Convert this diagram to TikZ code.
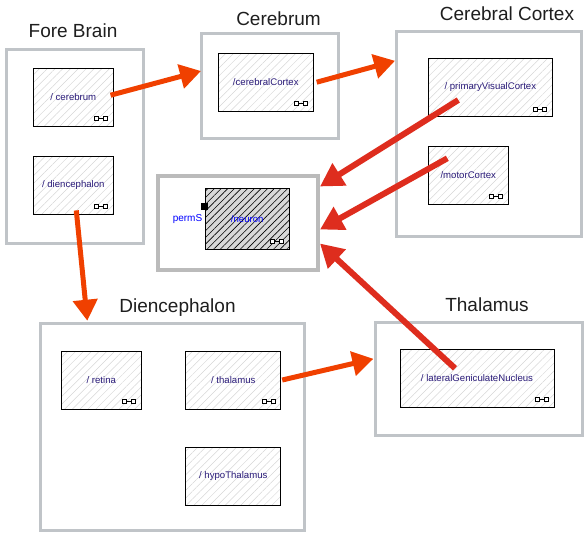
\documentclass[tikz,border=0pt]{standalone}
\usepackage{fontspec}
\setmainfont{Liberation Sans}
\usetikzlibrary{arrows.meta,positioning,patterns.meta}
\definecolor{frame}{RGB}{192,196,200}
\definecolor{focus}{RGB}{187,187,187}
\definecolor{hatch}{RGB}{214,214,214}
\definecolor{shade}{RGB}{216,216,216}
\definecolor{ink}{RGB}{30,30,30}
\definecolor{navy}{RGB}{40,25,120}
\definecolor{perm}{RGB}{0,0,255}
\definecolor{flame}{RGB}{240,64,0}
\definecolor{blood}{RGB}{222,45,30}
\tikzset{
  group/.style={draw=#1,line width=3pt,inner sep=0pt},
  group/.default=frame,
  title/.style={font=\fontsize{19}{22}\selectfont,text=ink,inner sep=0pt,anchor=base},
  part/.style={draw=black,line width=0.8pt,
    pattern={Lines[angle=45,distance=5.5pt,line width=0.5pt]},pattern color=hatch,
    minimum width=#1,minimum height=58pt,inner sep=0pt,
    font=\fontsize{9.6}{11}\selectfont,text=navy},
  part/.default=80pt,
  neuronbox/.style={draw=black,line width=0.8pt,preaction={fill=shade},
    pattern={Lines[angle=45,distance=4.7pt,line width=0.6pt]},pattern color=black,
    minimum width=84pt,minimum height=61pt,inner sep=0pt,
    font=\fontsize{9.6}{11}\selectfont,text=perm},
  port/.style={fill=black,minimum size=7pt,inner sep=0pt},
  portlabel/.style={font=\fontsize{10}{12}\selectfont,text=perm,inner sep=0pt},
  flow/.style={-{Triangle[length=21pt,width=24pt]},line width=5pt,draw=#1},
  flow/.default=flame,
  stab/.style={-{Triangle[length=23pt,width=25pt]},line width=6pt,draw=blood},
  % pictograms
  pics/linkicon/.style={code={
    \draw[black,line width=0.7pt] (-4.5,0) -- (4.5,0);
    \draw[black,fill=#1,line width=0.7pt] (-6.5,-2) rectangle (-2.5,2) (2.5,-2) rectangle (6.5,2);
  }},
  pics/linkicon/.default=white,
}

\begin{document}
\begin{tikzpicture}[x=1pt,y=-1pt]
  \useasboundingbox (0,0) rectangle (585,536);
  % containers
  \node[group,minimum width=137pt,minimum height=194pt] (foreG) at (75,146) {};
  \node[group,minimum width=137pt,minimum height=105.5pt] (cerebrumG) at (269.5,86) {};
  \node[group,minimum width=184.5pt,minimum height=204.5pt] (cortexG) at (488.8,133.8) {};
  \node[group=focus,line width=4pt,minimum width=160pt,minimum height=94pt] (neuronG) at (238,222.5) {};
  \node[group,minimum width=264pt,minimum height=206.5pt] (dienG) at (172.7,427) {};
  \node[group,minimum width=207pt,minimum height=113.5pt] (thalG) at (479.4,378.8) {};

  \node[title] (foreT) at (73,37) {Fore Brain};
  \node[title] (cerebrumT) at (278.5,25) {Cerebrum};
  \node[title] (cortexT) at (507,20) {Cerebral Cortex};
  \node[title] (dienT) at (177.5,312) {Diencephalon};
  \node[title] (thalT) at (487,311) {Thalamus};

  % parts
  \node[part] (cerebrum) at (73.3,97.2) {/ cerebrum};
  \node[part] (dienc) at (73.3,185) {/ diencephalon};
  \node[part=95pt] (cortex) at (265.8,82.2) {/cerebralCortex};
  \node[part=124pt] (visual) at (490.3,87.5) {/ primaryVisualCortex};
  \node[part] (motor) at (468.3,175.3) {/motorCortex};
  \node[part] (retina) at (101.3,380) {/ retina};
  \node[part=95pt] (thal) at (233.3,380) {/ thalamus};
  \node[part=95pt] (hypo) at (233.3,476.2) {/ hypoThalamus};
  \node[part=154pt] (lgn) at (477,378.3) {/ lateralGeniculateNucleus};
  \node[neuronbox] (neuron) at (247.2,218.8) {/neuron};

  \foreach \b in {cerebrum,dienc,cortex,visual,motor,retina,thal,lgn,neuron}
    \pic at ([shift={(-12.5pt,8pt)}]\b.south east) {linkicon};

  \node[port] (permS) at ([yshift=12.5pt]neuron.west) {};
  \node[portlabel,left=2.5pt of neuron.west] (permLabel) {permS};

  % links
  \draw[flow] ([xshift=-3pt,yshift=2pt]cerebrum.east) -- ([xshift=1.5pt,yshift=15pt]cerebrumG.west);
  \draw[flow] ([xshift=3pt]cortex.east) -- ([yshift=73pt]cortexG.west);
  \draw[flow] ([xshift=3pt,yshift=4pt]dienc.south) -- ([xshift=-85.4pt,yshift=1.5pt]dienG.north);
  \draw[flow] ([xshift=1pt]thal.east) -- ([xshift=-1pt,yshift=20pt]thalG.west);
  \draw[stab] ([xshift=-32pt,yshift=-12.5pt]visual.center) -- ([yshift=36pt]neuronG.east);
  \draw[stab] ([xshift=-21pt,yshift=17pt]motor.center) -- ([yshift=-7pt]neuronG.east);
  \draw[stab] ([xshift=-22pt,yshift=10pt]lgn.center) -- ([yshift=-21pt]neuronG.east);
\end{tikzpicture}
\end{document}
